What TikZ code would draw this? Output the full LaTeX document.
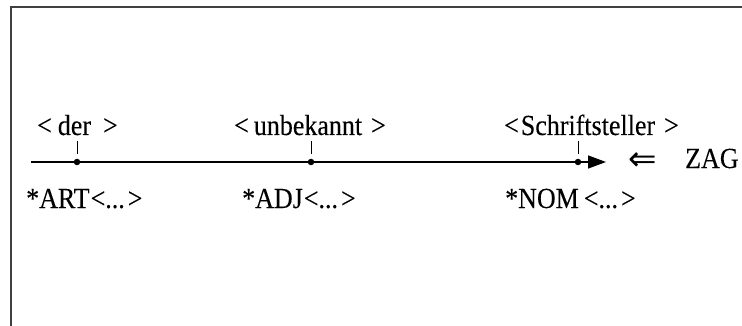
\documentclass[tikz,border=0pt]{standalone}
\usepackage{graphicx}
\usepackage{fontspec}
\setmainfont{Liberation Serif}
\newfontfamily\labelfont{Liberation Serif}[FakeBold=0.12]
\newfontfamily\arrowfont{DejaVu Sans}
% labels are set slightly taller than wide
\newcommand{\tallbox}[1]{\scalebox{1}[1.12]{#1}}
\usetikzlibrary{arrows.meta}
\begin{document}
\begin{tikzpicture}[x=1pt,y=-1pt,
  txt/.style={inner sep=0pt,font=\labelfont\fontsize{26}{30}\selectfont},
  dotmark/.style={circle,fill=black,inner sep=0pt,minimum size=6.5pt},
  axisline/.style={line width=1.4pt,-{Triangle[length=18pt,width=13pt]}},
  tick/.style={line width=0.8pt},
  frame/.style={line width=1.6pt,draw=black!75}]
\useasboundingbox (0,0) rectangle (742,326);
% open frame: top and left edges only
\coordinate (fbl) at (11,330);
\coordinate (ftl) at (11,7);
\coordinate (ftr) at (746,7);
\draw[frame] (fbl) -- (ftl) -- (ftr);
% time axis
\coordinate (start) at (31,162);
\coordinate (tip) at (606,162);
\draw[axisline] (start) -- (tip);
% word positions
\node[dotmark] (d1) at (77,162) {};
\node[dotmark] (d2) at (311,162) {};
\node[dotmark] (d3) at (578,162) {};
\coordinate (t1) at (77,141);
\coordinate (t2) at (311,141);
\coordinate (t3) at (578,141);
\coordinate (b1) at (77,154);
\coordinate (b2) at (311,154);
\coordinate (b3) at (578,154);
\draw[tick] (t1) -- (b1);
\draw[tick] (t2) -- (b2);
\draw[tick] (t3) -- (b3);
% surface words
\node[txt,anchor=base west] (w1) at (37,135) {\tallbox{<\hspace{6pt}der\hspace{12pt}>}};
\node[txt,anchor=base west] (w2) at (234,135) {\tallbox{<\hspace{5pt}unbekannt\hspace{9pt}>}};
\node[txt,anchor=base west] (w3) at (504,135) {\tallbox{<\hspace{2pt}Schriftsteller\hspace{9pt}>}};
% categories
\node[txt,anchor=base west] (c1) at (26,208) {\tallbox{*ART\hspace{1pt}<...\hspace{3pt}>}};
\node[txt,anchor=base west] (c2) at (242,208) {\tallbox{*ADJ\hspace{1pt}<...\hspace{3pt}>}};
\node[txt,anchor=base west] (c3) at (505,208) {\tallbox{*NOM\hspace{5pt}<...\hspace{3pt}>}};
% source
\node[inner sep=0pt,anchor=center,font=\arrowfont\fontsize{34}{38}\selectfont] (impl) at (643,162) {⇐};
\node[txt,anchor=base west] (zag) at (685,168) {\tallbox{ZAG}};
\end{tikzpicture}
\end{document}
